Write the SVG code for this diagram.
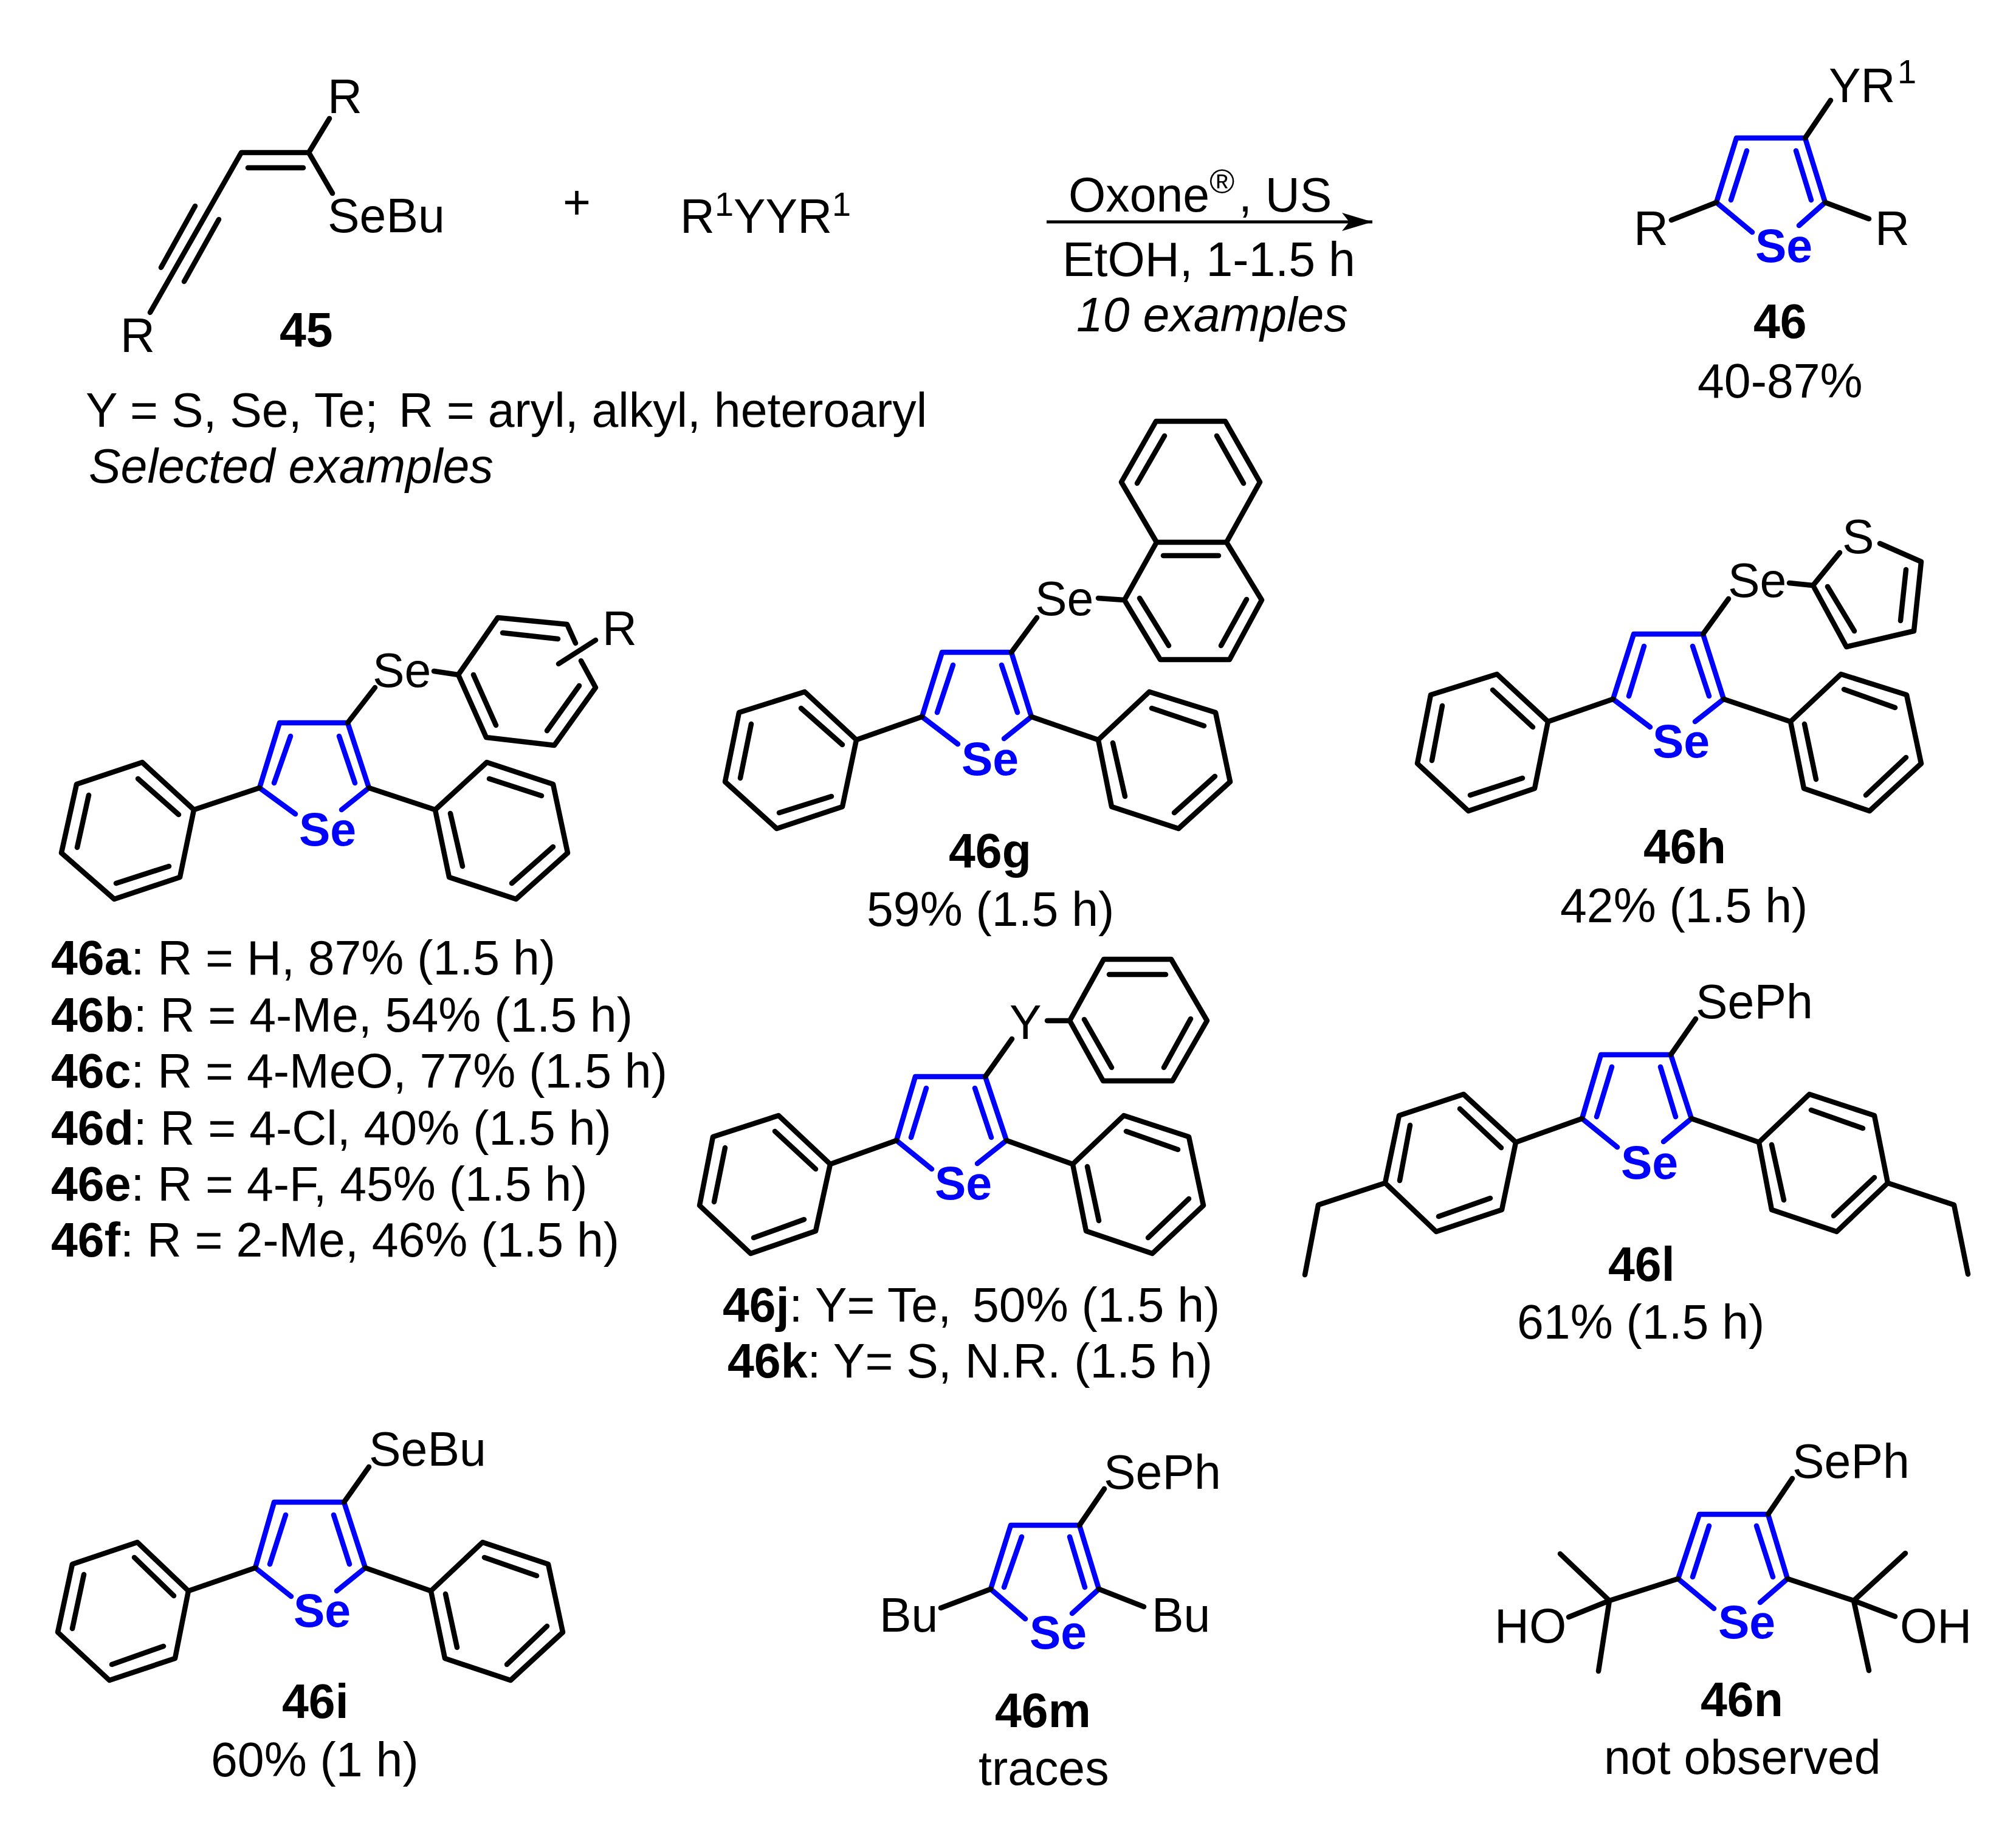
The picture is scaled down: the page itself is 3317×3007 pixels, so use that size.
<svg xmlns="http://www.w3.org/2000/svg" width="3317" height="3007" viewBox="0 0 3317 3007">
<style>
text{font-family:"Liberation Sans",Arial,sans-serif;font-size:78.8px;fill:#000;transform:translate(0,2px)}
.bd{font-weight:700}
.it{font-style:italic}
.se{font-weight:700;fill:#00f;font-size:77px}
.k{fill:none;stroke:#000;stroke-width:8.5;stroke-linecap:round;stroke-linejoin:round}
.u{fill:none;stroke:#00f;stroke-width:8.5;stroke-linecap:round;stroke-linejoin:round}
.sup{font-size:56px}
</style>
<defs><marker id="ah" markerUnits="userSpaceOnUse" markerWidth="52" markerHeight="30" refX="50" refY="15" orient="auto"><path d="M0 0L50 15L0 30L12 15Z" fill="#000"/></marker></defs>
<rect width="3317" height="3007" fill="#fff"/>

<g id="connectors"><path d="M1722 365H2258" stroke="#000" stroke-width="5" fill="none" marker-end="url(#ah)"/></g>

<g id="n45">
<path class="k" d="M247 514L397 251H508L542 195M508 251L547 318M408 276H499M321 339L265 440M360 361L303 463"/>
<text x="539" y="184">R</text><text x="539" y="380">SeBu</text><text x="198" y="577">R</text>
<text class="bd" x="460" y="568">45</text>
</g>
<g id="plus"><text x="926" y="358">+</text></g>
<g id="reagent"><text x="1119" y="381">R<tspan class="sup" dy="-28">1</tspan><tspan dy="28">YYR</tspan><tspan class="sup" dy="-28">1</tspan></text></g>
<g id="conditions">
<text x="1758" y="346">Oxone</text><text class="sup" x="1990" y="316">®</text><text x="2038" y="346">, US</text>
<text x="1748" y="452">EtOH, 1-1.5 h</text>
<text class="it" x="1771" y="543">10 examples</text>
</g>
<g id="scope-note">
<text x="141" y="700">Y = S, Se, Te;</text><text x="656" y="700">R = aryl, alkyl, heteroaryl</text>
<text class="it" x="146" y="792">Selected examples</text>
</g>

<g id="n46">
<path class="u" d="M2970 227H2857L2824 333L2883 382M2970 227L3003 333L2960 371M2874 248L2848 329M2955 248L2980 329"/>
<path class="k" d="M2970 227L3012 165M2824 333L2750 362M3003 333L3075 360"/>
<text class="se" x="2888" y="429">Se</text>
<text x="3009" y="166">YR</text><text class="sup" x="3122" y="135">1</text>
<text x="2688" y="401">R</text><text x="3085" y="401">R</text>
<text class="bd" x="2885" y="554">46</text><text x="2793" y="652">40-87%</text>
</g>

<g id="n46a">
<path class="u" d="M572 1189H460L427 1296L486 1339M572 1189L607 1296L562 1332M478 1211L451 1288M558 1211L584 1288"/>
<path class="k" d="M607 1296L716 1332L801 1254L910 1290L934 1403L849 1479L739 1443L716 1332M805 1281L891 1309M910 1393L842 1453M741 1338L761 1425"/>
<path class="k" d="M427 1296L319 1332L234 1254L126 1290L101 1403L188 1479L296 1443L319 1332M227 1281L294 1340M146 1308L127 1394M191 1453L278 1425"/>
<path class="k" d="M572 1189L617 1131M714 1104L754 1110L819 1016L933 1027L947 1058M956 1087L980 1131L912 1226L800 1213L754 1110M827 1041L918 1051M953 1128L900 1202M779 1110L816 1193M919 1092L980 1053"/>
<text class="se" x="492" y="1389">Se</text>
<text x="613" y="1128">Se</text><text x="991" y="1059">R</text>
</g>
<g id="labels-a-f">
<text x="84" y="1601"><tspan class="bd">46a</tspan>: R = H, 87% (1.5 h)</text>
<text x="84" y="1695"><tspan class="bd">46b</tspan>: R = 4-Me, 54% (1.5 h)</text>
<text x="84" y="1787"><tspan class="bd">46c</tspan>: R = 4-MeO, 77% (1.5 h)</text>
<text x="84" y="1881"><tspan class="bd">46d</tspan>: R = 4-Cl, 40% (1.5 h)</text>
<text x="84" y="1973"><tspan class="bd">46e</tspan>: R = 4-F, 45% (1.5 h)</text>
<text x="84" y="2065"><tspan class="bd">46f</tspan>: R = 2-Me, 46% (1.5 h)</text>
</g>

<g id="n46g">
<path class="u" d="M1664 1073H1550L1517 1179L1576 1224M1664 1073L1697 1179L1652 1215M1568 1094L1542 1172M1648 1094L1674 1172"/>
<path class="k" d="M1517 1179L1409 1217L1324 1138L1216 1172L1193 1286L1278 1363L1386 1327L1409 1217M1318 1165L1386 1225M1236 1191L1218 1280M1282 1337L1368 1310"/>
<path class="k" d="M1697 1179L1807 1217L1891 1138L2000 1172L2024 1286L1939 1363L1829 1327L1807 1217M1895 1165L1981 1194M1999 1277L1932 1337M1831 1222L1851 1310"/>
<path class="k" d="M1664 1073L1706 1016M1807 984L1850 987L1903 892H2018L2076 987L2023 1085H1909L1850 987M1903 892L1845 793L1902 693H2016L2073 793L2018 892M1914 914H2005M1875 984L1923 1062M2051 986L2009 1062M1871 795L1916 717M2002 717L2046 795"/>
<text class="se" x="1582" y="1273">Se</text><text x="1703" y="1010">Se</text>
<text class="bd" x="1561" y="1425">46g</text><text x="1426" y="1521">59% (1.5 h)</text>
</g>

<g id="n46h">
<path class="u" d="M2802 1043H2688L2654 1150L2715 1196M2802 1043L2836 1150L2789 1187M2705 1063L2680 1145M2785 1063L2812 1145"/>
<path class="k" d="M2654 1150L2547 1187L2463 1109L2354 1143L2332 1256L2416 1334L2525 1297L2547 1187M2456 1135L2522 1196M2373 1161L2356 1251M2419 1308L2505 1280"/>
<path class="k" d="M2836 1150L2946 1187L3029 1109L3137 1143L3161 1256L3076 1334L2968 1297L2946 1187M3034 1134L3118 1164M3136 1246L3070 1308M2969 1191L2988 1282"/>
<path class="k" d="M2802 1043L2844 985M2944 959L2983 963L3027 909M3093 894L3161 924L3149 1038L3038 1064L2983 963M3007 965L3051 1038M3136 937L3127 1021"/>
<text class="se" x="2719" y="1244">Se</text><text x="2843" y="980">Se</text><text x="3031" y="908">S</text>
<text class="bd" x="2704" y="1418">46h</text><text x="2567" y="1515">42% (1.5 h)</text>
</g>

<g id="n46j">
<path class="u" d="M1621 1771H1506L1475 1876L1533 1923M1621 1771L1656 1876L1608 1914M1524 1790L1499 1871M1604 1790L1631 1871"/>
<path class="k" d="M1475 1876L1366 1915L1281 1835L1173 1870L1151 1983L1235 2062L1342 2025L1366 1915M1275 1861L1342 1923M1193 1888L1175 1977M1240 2036L1323 2006"/>
<path class="k" d="M1656 1876L1765 1915L1849 1835L1956 1870L1980 1983L1896 2062L1787 2025L1765 1915M1853 1861L1938 1891M1956 1972L1889 2036M1789 1919L1808 2008"/>
<path class="k" d="M1621 1771L1665 1709M1723 1679H1760L1816 1578H1927L1986 1679L1929 1778H1815L1760 1679M1825 1603H1918M1784 1677L1829 1756M1959 1676L1915 1756"/>
<text class="se" x="1538" y="1971">Se</text><text x="1661" y="1707">Y</text>
<text x="1189" y="2172"><tspan class="bd">46j</tspan>: Y= Te,</text><text x="1600" y="2172">50% (1.5 h)</text>
<text x="1197" y="2264"><tspan class="bd">46k</tspan>: Y= S, N.R. (1.5 h)</text>
</g>

<g id="n46l">
<path class="u" d="M2749 1735H2634L2603 1840L2661 1887M2749 1735L2783 1840L2737 1878M2652 1755L2627 1837M2732 1755L2757 1837"/>
<path class="k" d="M2603 1840L2494 1879L2408 1800L2302 1835L2279 1946L2363 2026L2471 1990L2494 1879M2402 1824L2470 1888M2320 1851L2303 1942M2367 2001L2452 1971M2279 1946L2169 1982L2147 2097"/>
<path class="k" d="M2783 1840L2894 1879L2977 1800L3084 1835L3106 1946L3022 2026L2915 1990L2894 1879M2980 1826L3065 1856M3084 1937L3017 2000M2915 1883L2935 1974M3106 1946L3215 1982L3238 2096"/>
<path class="k" d="M2749 1735L2790 1676"/>
<text class="se" x="2667" y="1937">Se</text><text x="2790" y="1673">SePh</text>
<text class="bd" x="2646" y="2105">46l</text><text x="2496" y="2200">61% (1.5 h)</text>
</g>

<g id="n46i">
<path class="u" d="M566 2471H451L420 2579L479 2626M566 2471L601 2579L554 2617M470 2492L444 2573M549 2492L575 2573"/>
<path class="k" d="M420 2579L310 2617L226 2537L119 2573L95 2685L180 2764L288 2728L310 2617M221 2562L286 2625M138 2590L119 2679M184 2738L269 2708"/>
<path class="k" d="M601 2579L709 2617L794 2537L902 2573L926 2685L840 2764L732 2728L709 2617M797 2562L883 2592M900 2675L834 2738M733 2622L752 2710"/>
<path class="k" d="M566 2471L607 2413"/>
<text class="se" x="483" y="2674">Se</text><text x="607" y="2409">SeBu</text>
<text class="bd" x="464" y="2824">46i</text><text x="347" y="2920">60% (1 h)</text>
</g>

<g id="n46m">
<path class="u" d="M1776 2509H1663L1630 2614L1687 2663M1776 2509L1808 2614L1764 2654M1681 2528L1652 2611M1760 2528L1785 2611"/>
<path class="k" d="M1630 2614L1548 2645M1808 2614L1882 2643M1776 2509L1817 2449"/>
<text class="se" x="1694" y="2710">Se</text><text x="1447" y="2682">Bu</text><text x="1895" y="2682">Bu</text><text x="1816" y="2447">SePh</text>
<text class="bd" x="1637" y="2839">46m</text><text x="1610" y="2934">traces</text>
</g>

<g id="n46n">
<path class="u" d="M2909 2491H2796L2761 2597L2820 2646M2909 2491L2941 2597L2896 2636M2812 2510L2785 2594M2890 2510L2917 2594"/>
<path class="k" d="M2761 2597L2648 2633L2567 2556M2648 2633L2630 2749M2648 2633L2581 2660M2941 2597L3050 2633L3135 2555M3050 2633L3075 2748M3050 2633L3118 2659M2909 2491L2949 2432"/>
<text class="se" x="2827" y="2693">Se</text><text x="2459" y="2700">HO</text><text x="3126" y="2700">OH</text><text x="2949" y="2429">SePh</text>
<text class="bd" x="2798" y="2821">46n</text><text x="2639" y="2916">not observed</text>
</g>
</svg>
